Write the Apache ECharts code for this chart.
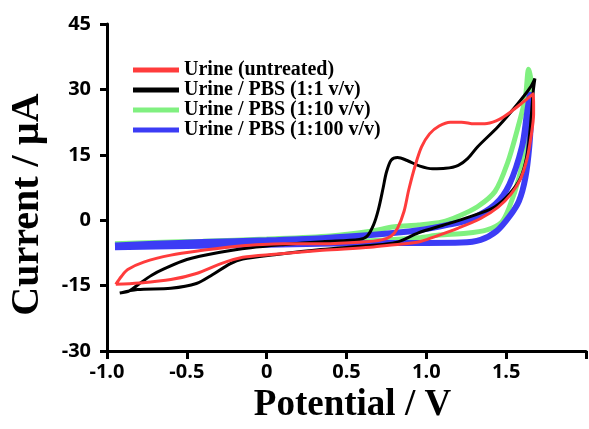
<!DOCTYPE html>
<html>
<head>
<meta charset="utf-8">
<style>
  html, body { margin: 0; padding: 0; background: #fff; }
  #chart { width: 589px; height: 429px; }
</style>
<script src="https://cdn.jsdelivr.net/npm/echarts@6/dist/echarts.min.js"></script>
</head>
<body>
<div id="chart"></div>
<script>
// Cyclic voltammograms of urine samples (potential in V, current in µA).
// Each loop: forward scan to the upper vertex, then the reverse scan back.

const seriesNames = [
  'Urine (untreated)',
  'Urine / PBS (1:1 v/v)',
  'Urine / PBS (1:10 v/v)',
  'Urine / PBS (1:100 v/v)'
];

const untreatedV = [-0.945, -0.91, -0.87, -0.77, -0.6, -0.4, -0.2, 0.1, 0.35, 0.6, 0.72, 0.78, 0.82, 0.86, 0.89, 0.93, 0.97, 1.02, 1.08, 1.15, 1.22, 1.3, 1.38, 1.46, 1.53, 1.6, 1.67,
  1.672, 1.655, 1.63, 1.59, 1.53, 1.45, 1.34, 1.2, 1.05, 0.95, 0.8, 0.65, 0.35, 0.05, -0.15, -0.29, -0.44, -0.6, -0.8, -0.945];
const untreatedI = [-14.7, -12.9, -11.3, -9.6, -8.0, -6.9, -6.0, -5.4, -5.4, -5.0, -4.5, -3.6, -1.8, 2.0, 7.0, 12.5, 16.8, 19.8, 21.6, 22.5, 22.5, 22.1, 22.2, 23.2, 24.9, 26.9, 29.0,
  24.4, 19.0, 14.0, 9.5, 6.0, 3.0, 0.4, -1.8, -3.8, -5.0, -5.6, -6.2, -6.9, -7.8, -8.5, -10.0, -12.2, -13.6, -14.4, -14.7];

const pbs1V = [-0.92, -0.86, -0.8, -0.72, -0.64, -0.5, -0.3, -0.1, 0.1, 0.35, 0.58, 0.63, 0.67, 0.7, 0.73, 0.75, 0.78, 0.82, 0.88, 0.96, 1.04, 1.12, 1.2, 1.26, 1.32, 1.45, 1.57, 1.65, 1.68,
  1.67, 1.65, 1.63, 1.59, 1.52, 1.43, 1.32, 1.2, 1.1, 0.95, 0.81, 0.65, 0.34, 0.05, -0.15, -0.23, -0.34, -0.44, -0.6, -0.81, -0.92];
const pbs1I = [-16.7, -16.2, -14.6, -12.6, -11.1, -9.0, -7.4, -6.3, -5.6, -4.9, -4.4, -3.6, -1.0, 2.5, 7.5, 11.0, 13.8, 14.4, 13.7, 12.4, 11.8, 11.9, 12.6, 14.2, 16.8, 21.5, 26.6, 30.4, 32.5,
  29.7, 20.8, 14.8, 9.7, 6.0, 3.1, 1.4, -0.1, -1.2, -2.9, -5.1, -5.8, -6.7, -7.9, -8.9, -10.0, -12.5, -14.5, -15.6, -15.9, -16.7];

const pbs10V = [-0.95, -0.7, -0.4, 0.0, 0.4, 0.65, 0.8, 0.95, 1.1, 1.2, 1.32, 1.43, 1.51, 1.57, 1.62, 1.64,
  1.655, 1.645, 1.62, 1.58, 1.52, 1.47, 1.38, 1.25, 1.08, 0.95, 0.65, 0.3, -0.3, -0.95];
const pbs10I = [-5.4, -5.1, -4.8, -4.3, -3.6, -2.5, -1.5, -1.1, -0.4, 0.9, 3.1, 6.6, 13.3, 20.8, 28.1, 34.6,
  32.0, 24.4, 17.0, 9.7, 3.0, -0.5, -2.2, -3.0, -3.4, -4.0, -4.7, -5.0, -5.5, -5.8];

const pbs100V = [-0.95, -0.7, -0.4, 0.0, 0.35, 0.65, 0.95, 1.14, 1.28, 1.43, 1.52, 1.6, 1.63, 1.65,
  1.655, 1.645, 1.62, 1.58, 1.52, 1.44, 1.34, 1.22, 0.9, 0.5, 0.0, -0.5, -0.95];
const pbs100I = [-5.8, -5.4, -5.0, -4.6, -4.1, -3.4, -2.3, -1.0, 0.3, 3.6, 8.2, 17.0, 24.4, 28.8,
  24.0, 17.0, 9.7, 4.4, 0.85, -2.5, -4.5, -5.1, -5.2, -5.3, -5.6, -5.9, -6.2];

const xTicks = { min: -1.0, max: 2.0, step: 0.5 };
const yTicks = { min: -30, max: 45, step: 15 };

function pairs(v, i) { return v.map((x, k) => [x, i[k]]); }

const serif = 'Liberation Serif';
const sans = 'Open Sans';

function loop(name, v, i, color, width) {
  return {
    name: name,
    type: 'line',
    data: pairs(v, i),
    showSymbol: false,
    symbol: 'none',
    smooth: 0.3,
    itemStyle: { color: color },
    lineStyle: { color: color, width: width },
    emphasis: { disabled: true }
  };
}

const chart = echarts.init(document.getElementById('chart'), null, { renderer: 'canvas' });
chart.setOption({
  animation: false,
  backgroundColor: '#ffffff',
  grid: { left: 101, right: -3, top: 24, bottom: 66, containLabel: false },
  legend: {
    data: seriesNames,
    orient: 'vertical',
    left: 128,
    top: 55,
    icon: 'rect',
    itemWidth: 46,
    itemHeight: 5,
    itemGap: 0,
    textStyle: { fontFamily: serif, fontWeight: 'bold', fontSize: 20, lineHeight: 19.5, color: '#000' }
  },
  xAxis: {
    type: 'value',
    min: xTicks.min, max: xTicks.max, interval: xTicks.step,
    name: 'Potential / V',
    nameLocation: 'middle',
    nameGap: 34,
    nameTextStyle: { fontFamily: serif, fontWeight: 'bold', fontSize: 37, color: '#000', padding: [0, 0, 0, 12] },
    axisLine: { onZero: false, lineStyle: { color: '#000', width: 3 } },
    axisTick: { inside: false, length: 8, lineStyle: { color: '#000', width: 3 } },
    axisLabel: {
      margin: 11,
      fontFamily: sans, fontWeight: 'bold', fontSize: 20, color: '#000',
      formatter: function (v) { if (v > 1.75) return ''; return v === 0 ? '0' : v.toFixed(1); }
    },
    splitLine: { show: false }
  },
  yAxis: {
    type: 'value',
    min: yTicks.min, max: yTicks.max, interval: yTicks.step,
    name: 'Current / µA',
    nameLocation: 'middle',
    nameGap: 59,
    nameTextStyle: { fontFamily: serif, fontWeight: 'bold', fontSize: 40, color: '#000', padding: [0, 34, 0, 0] },
    axisLine: { onZero: false, lineStyle: { color: '#000', width: 3 } },
    axisTick: { inside: false, length: 7, lineStyle: { color: '#000', width: 3 } },
    axisLabel: { margin: 16, fontFamily: sans, fontWeight: 'bold', fontSize: 20, color: '#000' },
    splitLine: { show: false }
  },
  series: [
    loop(seriesNames[2], pbs10V, pbs10I, '#80F080', 5),
    loop(seriesNames[3], pbs100V, pbs100I, '#3C3CF5', 6),
    loop(seriesNames[1], pbs1V, pbs1I, '#000000', 3),
    loop(seriesNames[0], untreatedV, untreatedI, '#FF3C3C', 3)
  ]
});
</script>
</body>
</html>
